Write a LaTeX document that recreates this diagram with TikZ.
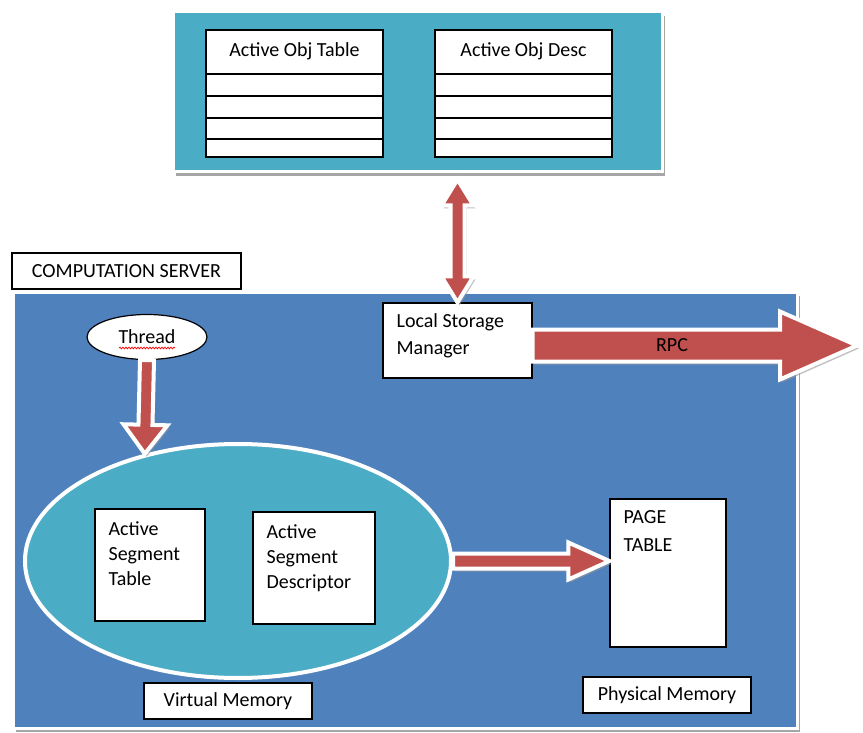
\documentclass[tikz,border=0pt]{standalone}
\usepackage{fontspec}
\setmainfont{Carlito}
\usetikzlibrary{calc, shapes.geometric, shadows, decorations.pathmorphing}

\definecolor{panelcyan}{HTML}{4BACC6}
\definecolor{panelblue}{HTML}{4F81BD}
\definecolor{arrowred}{HTML}{C0504D}

% Block arrow: from, to, half shaft, half head, head length
\newcommand{\blockarrow}[5]{
	\coordinate (fa-h) at ($(#2)!#5!(#1)$);
	\filldraw [fatarrow] ($(#1)!#3!90:(#2)$) -- ($(fa-h)!#3!90:(#2)$) -- ($(fa-h)!#4!90:(#2)$) -- (#2)
		-- ($(fa-h)!#4!-90:(#2)$) -- ($(fa-h)!#3!-90:(#2)$) -- ($(#1)!#3!-90:(#2)$) -- cycle;
}

% Double block arrow: from, to, half shaft, half head, head length
\newcommand{\dblarrow}[5]{
	\coordinate (fa-a) at ($(#1)!#5!(#2)$);
	\coordinate (fa-b) at ($(#2)!#5!(#1)$);
	\filldraw [fatarrow] (#1) -- ($(fa-a)!#4!90:(#2)$) -- ($(fa-a)!#3!90:(#2)$) -- ($(fa-b)!#3!90:(#2)$)
		-- ($(fa-b)!#4!90:(#2)$) -- (#2) -- ($(fa-b)!#4!-90:(#2)$) -- ($(fa-b)!#3!-90:(#2)$)
		-- ($(fa-a)!#3!-90:(#2)$) -- ($(fa-a)!#4!-90:(#2)$) -- cycle;
}

\begin{document}
\begin{tikzpicture}[x = 1pt, y = -1pt,
	every node/.style = {font = \fontsize{20}{25}\selectfont},
	panel/.style = {draw = white, line width = 3pt, inner sep = 0pt,
		drop shadow = {shadow xshift = 3pt, shadow yshift = -4pt, fill = black!35, opacity = 1}},
	whitebox/.style = {draw = black, fill = white, line width = 1.2pt, inner sep = 0pt},
	boxtext/.style = {inner sep = 0pt, align = left, anchor = north west},
	fatarrow/.style = {fill = arrowred, draw = white, line width = 4pt, line join = miter,
		drop shadow = {shadow xshift = 2pt, shadow yshift = -3pt, fill = black!40, opacity = 0.6}}]

	\useasboundingbox (0, 0) rectangle (863, 733);

	% Object store panel

	\node [panel, fill = panelcyan, minimum width = 489pt, minimum height = 160pt] (objpanel) at (417.5, 92) {};

	\node [whitebox, minimum width = 177pt, minimum height = 127pt] (objtable) at (294.5, 93.5) {};
	\node [whitebox, minimum width = 177pt, minimum height = 127pt] (objdesc) at (523.5, 93.5) {};

	\foreach \t in {objtable, objdesc}
	\foreach \y in {74, 96, 118, 139}
	{
		\draw [line width = 1.2pt] (\t.west |- 0,\y) -- (\t.east |- 0,\y);
	}

	\node (objtabletitle) at (objtable.north |- 0,51) {Active Obj Table};
	\node (objdesctitle) at (objdesc.north |- 0,51) {Active Obj Desc};

	% Computation server

	\node [panel, fill = panelblue, minimum width = 784pt, minimum height = 436pt] (server) at (405, 510) {};
	\node [whitebox, minimum width = 229pt, minimum height = 36pt] (servername) at (126.5, 271) {COMPUTATION SERVER};

	\node [whitebox, ellipse, minimum width = 120pt, minimum height = 45pt] (thread) at (147, 337) {Thread};
	\draw [red, line width = 0.7pt, decorate, decoration = {snake, amplitude = 0.9pt, segment length = 3pt}]
		($(thread.center) + (-28, 11)$) -- ($(thread.center) + (28, 11)$);

	\node [whitebox, minimum width = 149pt, minimum height = 75pt] (lsm) at (457.5, 340.5) {};
	\node [boxtext] (lsmtext) at ($(lsm.north west) + (14, 11)$) {Local Storage\\[2pt]Manager};

	% Virtual memory

	\node [ellipse, fill = panelcyan, draw = white, line width = 4pt, inner sep = 0pt,
		minimum width = 426pt, minimum height = 234pt] (vm) at (238, 561) {};

	\node [whitebox, minimum width = 110pt, minimum height = 112pt] (ast) at (150, 565) {};
	\node [boxtext] (asttext) at ($(ast.north west) + (14, 13)$) {Active\\Segment\\Table};

	\node [whitebox, minimum width = 122pt, minimum height = 112pt] (asd) at (314, 568) {};
	\node [boxtext] (asdtext) at ($(asd.north west) + (14, 13)$) {Active\\Segment\\Descriptor};

	\node [whitebox, minimum width = 168pt, minimum height = 36pt] (vmlabel) at (228, 701) {Virtual Memory};

	% Physical memory

	\node [whitebox, minimum width = 116pt, minimum height = 148pt] (pagetable) at (668, 573) {};
	\node [boxtext] (pagetabletext) at ($(pagetable.north west) + (14, 12)$) {PAGE\\[3pt]TABLE};

	\node [whitebox, minimum width = 168pt, minimum height = 36pt] (pmlabel) at (667, 695) {Physical Memory};

	% Block arrows

	\coordinate (objbottom) at ($(objpanel.south -| lsm.north) + (0, 6)$);
	\dblarrow{objbottom}{lsm.north}{7pt}{16pt}{26pt}

	\blockarrow{thread.south}{vm.131}{7pt}{22pt}{29pt}

	\coordinate (pttip) at (vm.east -| pagetable.west);
	\blockarrow{vm.east}{pttip}{7.5pt}{18.5pt}{41pt}

	\coordinate (rpcstart) at ($(lsm.east) + (0, 5)$);
	\coordinate (rpctip) at (857, 345.5);
	\blockarrow{rpcstart}{rpctip}{16pt}{34pt}{77pt}

	\node (rpc) at (672, 345.5) {RPC};

\end{tikzpicture}
\end{document}
